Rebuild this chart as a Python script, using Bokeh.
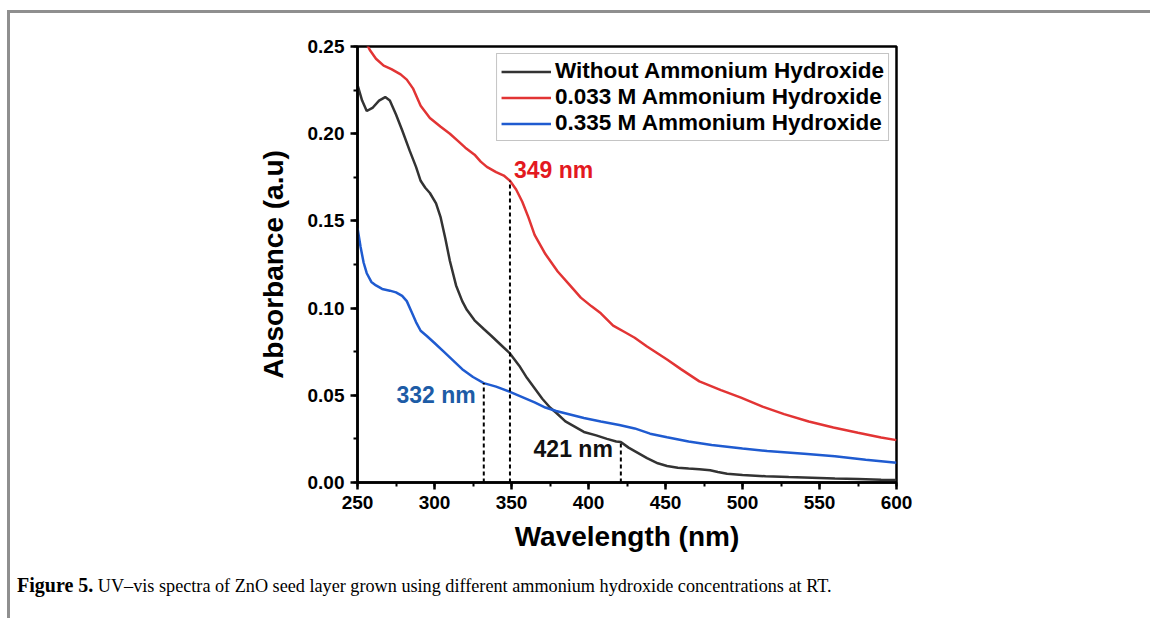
import numpy as np
from bokeh.plotting import figure
from bokeh.layouts import column
from bokeh.models import Range1d, SingleIntervalTicker, NumeralTickFormatter, Div
from bokeh.core.properties import value
from bokeh.embed import file_html
from bokeh.resources import INLINE

# UV-vis absorbance spectra (wavelength in nm, absorbance in a.u.)
wl_none = [250, 253, 256, 260, 264, 268, 271, 275, 279, 284, 288, 291, 294, 297, 301,
           304, 307, 310, 314, 318, 321, 326, 332, 337, 343, 349, 355, 360, 365, 370,
           375, 379, 385, 391, 397, 405, 412, 418, 421, 426, 432, 438, 445, 451, 458,
           465, 472, 479, 484, 490, 500, 515, 530, 545, 560, 575, 590, 600]
abs_none = [0.228, 0.219, 0.213, 0.215, 0.219, 0.221, 0.219, 0.211, 0.202, 0.190, 0.181,
            0.173, 0.169, 0.166, 0.160, 0.152, 0.140, 0.127, 0.113, 0.104, 0.099, 0.093,
            0.088, 0.084, 0.079, 0.074, 0.067, 0.060, 0.054, 0.048, 0.043, 0.040, 0.035,
            0.032, 0.029, 0.027, 0.025, 0.0235, 0.0232, 0.020, 0.017, 0.014, 0.011, 0.0095,
            0.0085, 0.0080, 0.0076, 0.0070, 0.0060, 0.0050, 0.0043, 0.0036, 0.0031, 0.0027,
            0.0023, 0.0020, 0.0016, 0.0014]

wl_033 = [250, 254, 258, 262, 267, 272, 278, 282, 286, 291, 297, 304, 310, 315, 320, 326,
          330, 334, 340, 345, 349, 353, 357, 361, 365, 372, 380, 388, 395, 402, 408, 416,
          424, 430, 438, 445, 451, 460, 472, 486, 499, 513, 527, 543, 559, 575, 590, 600]
abs_033 = [0.262, 0.255, 0.248, 0.243, 0.239, 0.237, 0.234, 0.231, 0.226, 0.216, 0.209,
           0.204, 0.200, 0.196, 0.192, 0.188, 0.184, 0.181, 0.178, 0.176, 0.173, 0.168,
           0.161, 0.152, 0.142, 0.131, 0.121, 0.113, 0.106, 0.101, 0.097, 0.090, 0.086,
           0.083, 0.078, 0.074, 0.0705, 0.065, 0.058, 0.053, 0.0487, 0.0435, 0.0392,
           0.035, 0.0315, 0.0285, 0.0258, 0.0243]

wl_335 = [250, 252, 254, 256, 259, 262, 266, 271, 275, 279, 282, 285, 288, 291, 295, 300,
          306, 312, 318, 325, 332, 340, 349, 357, 365, 372, 379, 388, 397, 408, 420, 430,
          440, 451, 465, 480, 500, 516, 540, 560, 580, 600]
abs_335 = [0.146, 0.135, 0.126, 0.120, 0.115, 0.113, 0.111, 0.110, 0.109, 0.107, 0.104,
           0.098, 0.092, 0.087, 0.084, 0.080, 0.075, 0.070, 0.065, 0.0605, 0.057, 0.055,
           0.052, 0.049, 0.046, 0.043, 0.041, 0.039, 0.037, 0.035, 0.033, 0.031, 0.028,
           0.026, 0.0235, 0.0215, 0.0195, 0.018, 0.0165, 0.015, 0.013, 0.0113]

series_names = ["Without Ammonium Hydroxide", "0.033 M Ammonium Hydroxide",
                "0.335 M Ammonium Hydroxide"]

# marked absorption edges (nm)
edge_033 = 349
edge_335 = 332
edge_none = 421

x_ticks_step = 50
y_ticks_step = 0.05

caption_bold = "Figure 5."
caption_text = ("UV\u2013vis spectra of ZnO seed layer grown using different "
                "ammonium hydroxide concentrations at RT.")

FONT = "Liberation Sans"

p = figure(width=1140, height=555, output_backend="svg", toolbar_location=None,
           x_range=Range1d(250, 600), y_range=Range1d(0, 0.25),
           min_border_left=347, min_border_right=254, min_border_top=33,
           min_border_bottom=86, background_fill_color="white",
           border_fill_color="white")
p.grid.visible = False
p.outline_line_color = "black"
p.outline_line_width = 2.5

p.xaxis.ticker = SingleIntervalTicker(interval=x_ticks_step, num_minor_ticks=2)
p.yaxis.ticker = SingleIntervalTicker(interval=y_ticks_step, num_minor_ticks=2)
p.yaxis.formatter = NumeralTickFormatter(format="0.00")
p.xaxis.axis_label = "Wavelength (nm)"
p.yaxis.axis_label = "Absorbance (a.u)"

for ax in (p.xaxis[0], p.yaxis[0]):
    ax.axis_line_width = 2.5
    ax.axis_line_color = "black"
    ax.major_tick_line_width = 2.5
    ax.major_tick_line_color = "black"
    ax.major_tick_out = 7
    ax.major_tick_in = 0
    ax.minor_tick_line_width = 2
    ax.minor_tick_line_color = "black"
    ax.minor_tick_out = 4
    ax.minor_tick_in = 0
    ax.major_label_text_font = FONT
    ax.major_label_text_font_style = "bold"
    ax.major_label_text_font_size = "19px"
    ax.major_label_text_color = "black"
    ax.axis_label_text_font = FONT
    ax.axis_label_text_font_style = "bold"
    ax.axis_label_text_font_size = "28px"
    ax.axis_label_text_color = "black"

p.xaxis.major_label_standoff = 6
p.xaxis.axis_label_standoff = 9
p.yaxis.major_label_standoff = 6
p.yaxis.axis_label_standoff = 16

colors = ["#333333", "#e23434", "#1f5bd0"]
p.line(wl_none, abs_none, line_color=colors[0], line_width=2.5, legend_label=series_names[0])
p.line(wl_033, abs_033, line_color=colors[1], line_width=2.5, legend_label=series_names[1])
p.line(wl_335, abs_335, line_color=colors[2], line_width=2.5, legend_label=series_names[2])

# dashed drop lines from each marked edge down to the axis
edges = [edge_033, edge_335, edge_none]
edge_abs = [float(np.interp(edge_033, wl_033, abs_033)),
            float(np.interp(edge_335, wl_335, abs_335)),
            float(np.interp(edge_none, wl_none, abs_none))]
p.segment(x0=edges, y0=[0, 0, 0], x1=edges, y1=edge_abs,
          line_color="black", line_width=2, line_dash="4 3")

p.text(x=[edge_033], y=[edge_abs[0]], text=[f"{edge_033} nm"], x_offset=4, y_offset=-11,
       text_align="left", text_baseline="middle", text_font=value(FONT),
       text_font_style="bold", text_font_size="23px", text_color="#e3191f")
p.text(x=[edge_335], y=[edge_abs[1]], text=[f"{edge_335} nm"], x_offset=-8, y_offset=12,
       text_align="right", text_baseline="middle", text_font=value(FONT),
       text_font_style="bold", text_font_size="23px", text_color="#1d5ca6")
p.text(x=[edge_none], y=[edge_abs[2]], text=[f"{edge_none} nm"], x_offset=-8, y_offset=7,
       text_align="right", text_baseline="middle", text_font=value(FONT),
       text_font_style="bold", text_font_size="23px", text_color="#111111")

lg = p.legend[0]
lg.location = "top_right"
lg.margin = 7
lg.padding = 4
lg.spacing = 0
lg.label_height = 25
lg.glyph_height = 25
lg.glyph_width = 50
lg.label_standoff = 4
lg.label_text_font = FONT
lg.label_text_font_style = "bold"
lg.label_text_font_size = "22.5px"
lg.label_text_color = "black"
lg.border_line_color = "#8a8a8a"
lg.border_line_width = 1.5
lg.background_fill_alpha = 1

caption = Div(text=f"<b style='font-size:20px'>{caption_bold}</b> {caption_text}",
              width=1100, height=40,
              styles={"font-family": "'Liberation Serif', serif", "font-size": "18.2px",
                      "color": "black", "padding-left": "2px", "line-height": "24px"})

page = column(p, caption, margin=(10, 0, 0, 7),
              styles={"border-top": "3px solid #8f8f8f",
                      "border-left": "3px solid #8f8f8f"})

open("out.html", "w").write(file_html(page, INLINE))
